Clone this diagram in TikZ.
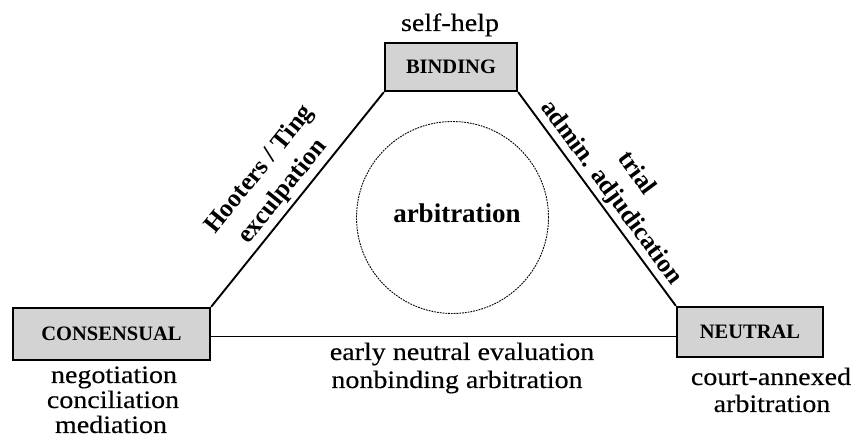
\documentclass[tikz,border=0pt]{standalone}
\usepackage{fontspec}
\setmainfont{Liberation Serif}
\newfontfamily\widefont{Liberation Serif}[FakeStretch=1.12, FakeBold=0.3]
\definecolor{boxgray}{RGB}{211,211,211}
\tikzset{
  boxnode/.style={draw, line width=2.3pt, fill=boxgray, inner sep=0pt,
    font=\fontsize{20.5}{24}\selectfont\bfseries},
  regtext/.style={font=\widefont\fontsize{25}{28}\selectfont, inner sep=0pt, anchor=base},
  rottext/.style={font=\fontsize{25.5}{30}\selectfont\bfseries, inner sep=0pt},
  edge/.style={line width=1.9pt},
}
\begin{document}
\begin{tikzpicture}[x=1pt,y=1pt]
\useasboundingbox (0,0) rectangle (857,447);
% boxes
\node[boxnode, minimum width=132pt, minimum height=48pt] (bind) at (451,380) {BINDING};
\node[boxnode, minimum width=197pt, minimum height=52pt] (cons) at (111.5,113) {CONSENSUAL};
\node[boxnode, minimum width=146pt, minimum height=50pt] (neut) at (750,115) {NEUTRAL};
% connectors
\draw[edge] (cons.north east) -- (bind.south west);
\draw[edge] (bind.south east) -- (neut.north west);
\draw[edge] (cons.east |- 0,110.5) -- (neut.west |- 0,110.5);
% circle
\node[draw, circle, line width=0.9pt, dash pattern=on 1.8pt off 1pt, minimum size=192pt, inner sep=0pt] (circ) at (452.5,229.5) {};
\node[font=\fontsize{27}{30}\selectfont\bfseries, inner sep=0pt, anchor=base] (arb) at (457,224) {arbitration};
% texts
\node[regtext] (selfhelp) at (450,416) {self-help};
\node[regtext] (neg) at (114,64) {negotiation};
\node[regtext] (conc) at (113,39) {conciliation};
\node[regtext] (med) at (111,14) {mediation};
\node[regtext] (ene) at (462,87) {early neutral evaluation};
\node[regtext] (nba) at (457,59) {nonbinding arbitration};
\node[regtext] (court) at (771,62) {court-annexed};
\node[regtext] (carb) at (772,35) {arbitration};
% rotated labels
\node[rottext, rotate=51.1] (hoot) at (260,277) {Hooters / Ting};
\node[rottext, rotate=51.1] (excul) at (283,255) {exculpation};
\node[rottext, rotate=-53.6] (trial) at (638,275) {trial};
\node[rottext, rotate=-53.6] (admin) at (611,254) {admin. adjudication};
\end{tikzpicture}
\end{document}
